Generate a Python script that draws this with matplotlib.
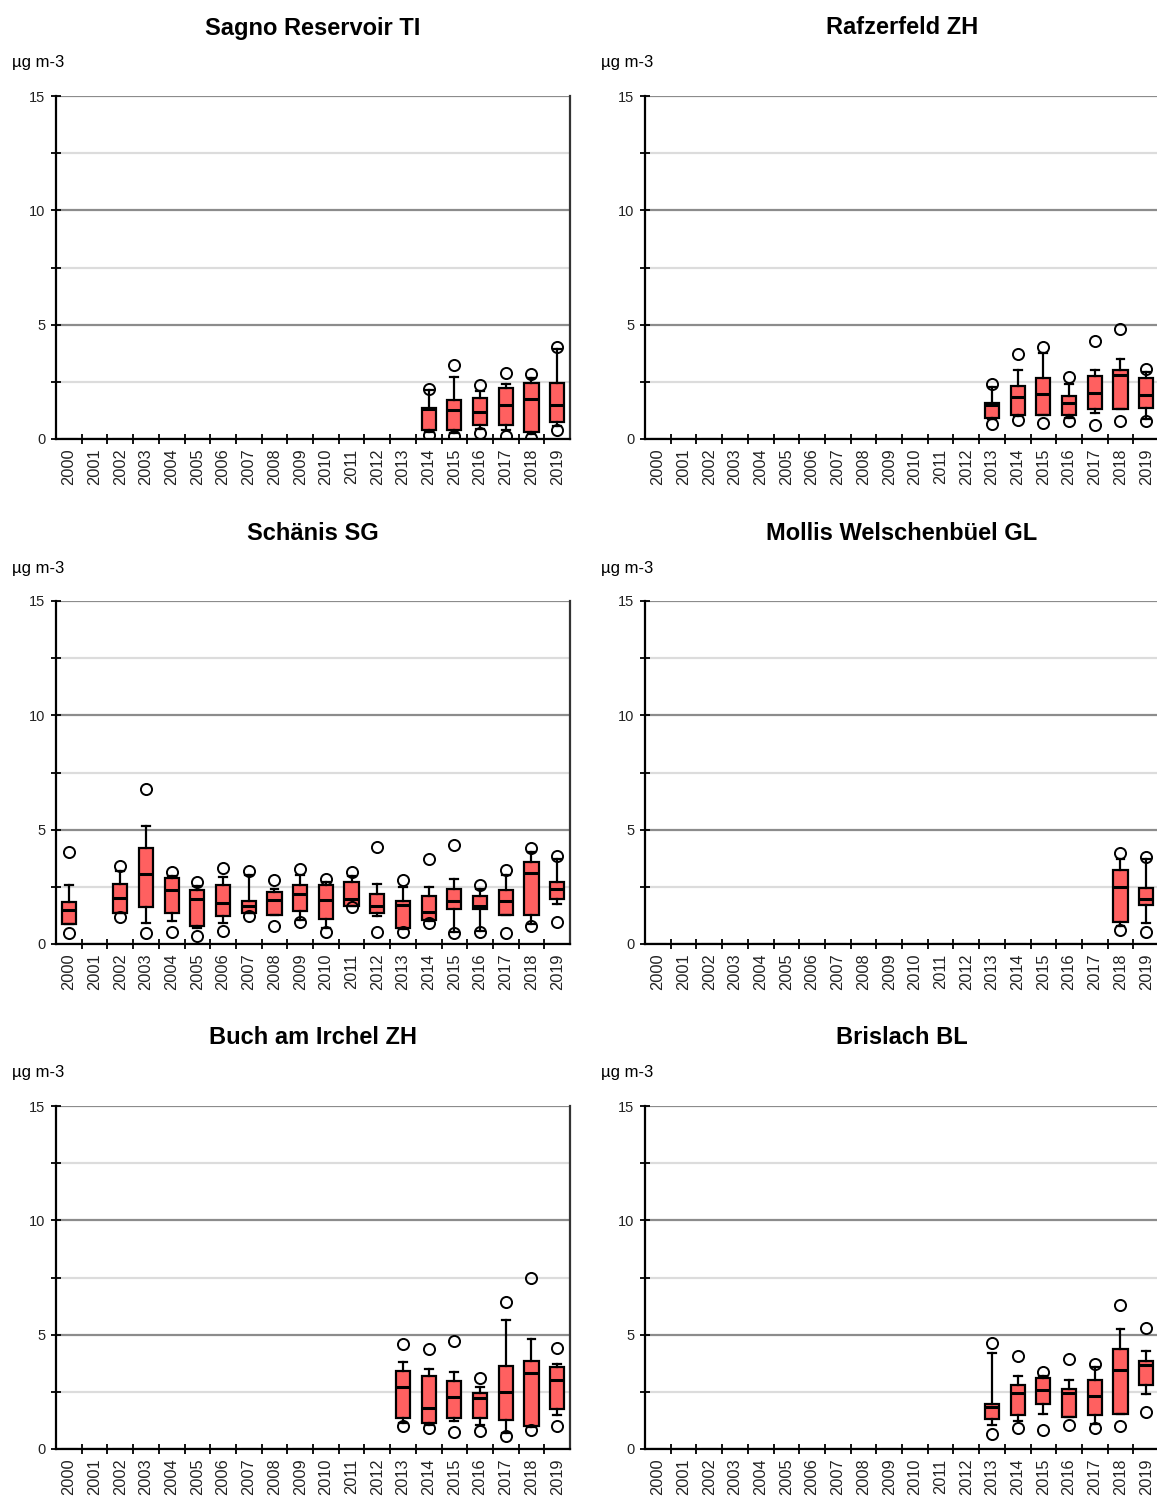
import matplotlib

matplotlib.use("Agg")
import matplotlib.pyplot as plt
import numpy as np

plt.rcParams["font.family"] = ["Liberation Sans", "DejaVu Sans"]

ALL_YEARS = list(range(2000, 2020))

# station -> years with data and box statistics (µg m-3)
sagno_years = [2014, 2015, 2016, 2017, 2018, 2019]
sagno_out_lo = [0.18, 0.13, 0.25, 0.15, 0.03, 0.39]
sagno_whis_lo = [0.30, 0.25, 0.45, 0.40, 0.20, 0.55]
sagno_q1 = [0.39, 0.39, 0.60, 0.60, 0.31, 0.76]
sagno_med = [1.30, 1.27, 1.20, 1.48, 1.74, 1.48]
sagno_q3 = [1.35, 1.71, 1.78, 2.22, 2.47, 2.47]
sagno_whis_hi = [2.15, 2.69, 2.12, 2.40, 2.66, 3.93]
sagno_out_hi = [2.19, 3.22, 2.37, 2.88, 2.84, 4.02]

rafz_years = [2013, 2014, 2015, 2016, 2017, 2018, 2019]
rafz_out_lo = [0.67, 0.82, 0.69, 0.79, 0.61, 0.79, 0.79]
rafz_whis_lo = [0.86, 1.00, 1.06, 0.93, 1.15, 1.30, 0.86]
rafz_q1 = [0.93, 1.06, 1.06, 1.06, 1.30, 1.30, 1.37]
rafz_med = [1.49, 1.84, 1.95, 1.59, 2.03, 2.81, 1.91]
rafz_q3 = [1.59, 2.32, 2.68, 1.88, 2.76, 3.00, 2.68]
rafz_whis_hi = [2.29, 3.00, 3.75, 2.39, 3.00, 3.51, 2.93]
rafz_out_hi = [2.39, 3.73, 4.04, 2.73, 4.29, 4.83, 3.05]

schaenis_years = [2000] + list(range(2002, 2020))
schaenis_out_lo = [0.47, 1.20, 0.47, 0.51, 0.34, 0.57, 1.23, 0.79, 0.98, 0.54,
                   1.61, 0.51, 0.54, 0.91, 0.47, 0.54, 0.48, 0.77, 0.95]
schaenis_whis_lo = [0.86, 1.36, 0.94, 0.99, 0.70, 0.92, 1.36, 1.29, 1.07, 0.69,
                    1.68, 1.24, 0.66, 1.02, 0.51, 0.58, 1.29, 0.88, 1.75]
schaenis_q1 = [0.86, 1.36, 1.61, 1.36, 0.77, 1.23, 1.36, 1.29, 1.43, 1.10,
               1.68, 1.36, 0.72, 1.07, 1.54, 1.54, 1.29, 1.29, 1.97]
schaenis_med = [1.49, 2.00, 3.07, 2.34, 1.97, 1.80, 1.68, 1.93, 2.18, 1.93,
                1.97, 1.68, 1.71, 1.39, 1.90, 1.68, 1.90, 3.10, 2.41]
schaenis_q3 = [1.83, 2.63, 4.20, 2.88, 2.34, 2.56, 1.90, 2.27, 2.56, 2.56,
               2.70, 2.19, 1.90, 2.12, 2.41, 2.12, 2.34, 3.58, 2.70]
schaenis_whis_hi = [2.56, 3.19, 5.15, 2.97, 2.53, 2.95, 3.03, 2.41, 3.00, 2.70,
                    2.97, 2.63, 2.49, 2.49, 2.85, 2.41, 3.03, 4.02, 3.73]
schaenis_out_hi = [4.02, 3.41, 6.77, 3.13, 2.70, 3.32, 3.19, 2.81, 3.29, 2.85,
                   3.14, 4.24, 2.78, 3.70, 4.34, 2.59, 3.22, 4.21, 3.83]

mollis_years = [2018, 2019]
mollis_out_lo = [0.61, 0.54]
mollis_whis_lo = [0.79, 0.94]
mollis_q1 = [0.98, 1.71]
mollis_med = [2.51, 1.97]
mollis_q3 = [3.25, 2.44]
mollis_whis_hi = [3.71, 3.70]
mollis_out_hi = [4.00, 3.80]

buch_years = [2013, 2014, 2015, 2016, 2017, 2018, 2019]
buch_out_lo = [1.02, 0.92, 0.73, 0.77, 0.58, 0.83, 0.99]
buch_whis_lo = [1.15, 1.05, 1.21, 1.07, 0.70, 0.95, 1.49]
buch_q1 = [1.35, 1.14, 1.35, 1.35, 1.27, 0.99, 1.73]
buch_med = [2.70, 1.78, 2.27, 2.22, 2.49, 3.33, 3.00]
buch_q3 = [3.40, 3.19, 2.97, 2.46, 3.65, 3.87, 3.57]
buch_whis_hi = [3.80, 3.51, 3.36, 2.70, 5.66, 4.82, 3.70]
buch_out_hi = [4.58, 4.39, 4.72, 3.10, 6.43, 7.50, 4.43]

brislach_years = [2013, 2014, 2015, 2016, 2017, 2018, 2019]
brislach_out_lo = [0.66, 0.92, 0.82, 1.06, 0.92, 0.99, 1.62]
brislach_whis_lo = [1.05, 1.24, 1.53, 1.38, 1.11, 1.53, 2.42]
brislach_q1 = [1.31, 1.47, 1.98, 1.38, 1.47, 1.53, 2.78]
brislach_med = [1.84, 2.45, 2.57, 2.45, 2.33, 3.47, 3.69]
brislach_q3 = [1.98, 2.78, 3.10, 2.64, 3.00, 4.37, 3.83]
brislach_whis_hi = [4.20, 3.18, 3.18, 3.00, 3.57, 5.25, 4.27]
brislach_out_hi = [4.64, 4.08, 3.35, 3.94, 3.72, 6.31, 5.29]

panels = [
    ("Sagno Reservoir TI", sagno_years, sagno_out_lo, sagno_whis_lo, sagno_q1,
     sagno_med, sagno_q3, sagno_whis_hi, sagno_out_hi),
    ("Rafzerfeld ZH", rafz_years, rafz_out_lo, rafz_whis_lo, rafz_q1,
     rafz_med, rafz_q3, rafz_whis_hi, rafz_out_hi),
    ("Schänis SG", schaenis_years, schaenis_out_lo, schaenis_whis_lo, schaenis_q1,
     schaenis_med, schaenis_q3, schaenis_whis_hi, schaenis_out_hi),
    ("Mollis Welschenbüel GL", mollis_years, mollis_out_lo, mollis_whis_lo, mollis_q1,
     mollis_med, mollis_q3, mollis_whis_hi, mollis_out_hi),
    ("Buch am Irchel ZH", buch_years, buch_out_lo, buch_whis_lo, buch_q1,
     buch_med, buch_q3, buch_whis_hi, buch_out_hi),
    ("Brislach BL", brislach_years, brislach_out_lo, brislach_whis_lo, brislach_q1,
     brislach_med, brislach_q3, brislach_whis_hi, brislach_out_hi),
]

W, H = 1157, 1499
fig = plt.figure(figsize=(W / 100, H / 100), dpi=100)

col_x = [56, 645]
ax_w = 514
row_top = [96, 601, 1106]
ax_h = 343

BOX_FILL = "#ff6060"

for i, (title, years, olo, wlo, q1, med, q3, whi, ohi) in enumerate(panels):
    r, c = divmod(i, 2)
    x0, y0 = col_x[c], row_top[r]
    ax = fig.add_axes([x0 / W, 1 - (y0 + ax_h) / H, ax_w / W, ax_h / H])

    pos = [ALL_YEARS.index(y) for y in years]
    stats = [{"med": m, "q1": a, "q3": b, "whislo": wl, "whishi": wh,
              "fliers": [lo, hi]}
             for lo, wl, a, m, b, wh, hi in zip(olo, wlo, q1, med, q3, whi, ohi)]
    ax.bxp(stats, positions=pos, widths=0.55, patch_artist=True, capwidths=0.3,
           boxprops=dict(facecolor=BOX_FILL, edgecolor="black", linewidth=1.6),
           medianprops=dict(color="black", linewidth=2.2),
           whiskerprops=dict(color="black", linewidth=1.6),
           capprops=dict(color="black", linewidth=1.6),
           flierprops=dict(marker="o", markersize=8, markerfacecolor="none",
                           markeredgecolor="black", markeredgewidth=1.4),
           zorder=3)

    # years without data drawn as a flat dash at zero
    missing = [k for k, y in enumerate(ALL_YEARS) if y not in years]
    ax.hlines([0] * len(missing), [k - 0.32 for k in missing],
              [k + 0.32 for k in missing], colors="black", linewidth=2.2, zorder=3)

    ax.set_xlim(-0.5, 19.5)
    ax.set_ylim(0, 15)
    ax.set_yticks([0, 5, 10, 15])
    ax.set_yticks([2.5, 7.5, 12.5], minor=True)
    ax.set_xticks(np.arange(0.5, 19, 1.0))
    ax.set_xticklabels([])
    ax.set_xticks(range(20), minor=True)
    ax.set_xticklabels([str(y) for y in ALL_YEARS], minor=True, rotation=90,
                       fontsize=11.8, color="#222222")
    ax.tick_params(axis="x", which="minor", length=0, pad=7)
    ax.tick_params(axis="x", which="major", direction="inout", length=7, width=1.3)
    ax.tick_params(axis="y", which="both", direction="inout", length=7, width=1.3,
                   labelsize=10.5, labelcolor="#222222", pad=4)

    ax.grid(axis="y", which="major", color="#8c8c8c", linewidth=1.6, zorder=0)
    ax.grid(axis="y", which="minor", color="#dcdcdc", linewidth=1.6, zorder=0)
    ax.set_axisbelow(True)

    ax.spines["top"].set_visible(False)
    for s in ("left", "bottom", "right"):
        ax.spines[s].set_linewidth(1.6)
        ax.spines[s].set_color("#333333" if s == "right" else "black")

    cx = x0 + ax_w / 2
    fig.text(cx / W, 1 - (y0 - 68) / H, title, ha="center", va="center",
             fontsize=17, fontweight="bold")
    fig.text((x0 - 44) / W, 1 - (y0 - 33) / H, "µg m-3", ha="left", va="center",
             fontsize=12)

fig.savefig("out.png", dpi=100)
